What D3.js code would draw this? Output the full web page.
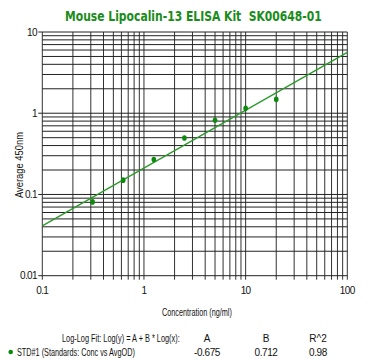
<!DOCTYPE html>
<html>
<head>
<meta charset="utf-8">
<script src="https://cdn.jsdelivr.net/npm/d3@7"></script>
<style>
  body { margin: 0; background: #fff; }
  text { font-family: "Liberation Sans", Arial, sans-serif; fill: #111; }
</style>
</head>
<body>
<script>
var width = 368
var height = 360

// standards
var conc = [0.3125, 0.625, 1.25, 2.5, 5, 10, 20]
var avgOD = [0.081, 0.150, 0.27, 0.495, 0.82, 1.15, 1.48]

// fit parameters shown under the chart
var fitA = -0.675
var fitB = 0.712
var fitR2 = 0.98

var xTicks = [0.1, 1, 10, 100]
var yTicks = [0.01, 0.1, 1, 10]

var green = "#1a8c1a"

var svg = d3.select("body")
    .append("svg")
        .attr("width", width)
        .attr("height", height)

var x = d3.scaleLog().domain([0.1, 100]).range([42.3, 347.3])
var y = d3.scaleLog().domain([0.01, 10]).range([275.7, 32])

// grid values, 1..9 per decade
var xGrid = []
xTicks.slice(0, -1).forEach(function(d) { for (var i = 1; i < 10; i++) xGrid.push(d * i) })
xGrid.push(100)
var yGrid = []
yTicks.slice(0, -1).forEach(function(d) { for (var i = 1; i < 10; i++) yGrid.push(d * i) })
yGrid.push(10)

var fmt = function(f) { return function(d) { return d3.format(f)(d).replace("\u2212", "-") } }

// squeeze a text horizontally to a given width, starting at x0
function squeeze(sel, x0, y0, w) {
    var n = sel.node().getComputedTextLength()
    sel.attr("transform", "translate(" + x0 + "," + y0 + ") scale(" + (w / n) + ",1)")
}

var title = svg.append("text")
    .style("font-family", "'DejaVu Sans Condensed', 'DejaVu Sans', sans-serif")
    .style("font-stretch", "condensed")
    .style("font-weight", "bold")
    .style("font-size", "14.5px")
    .style("white-space", "pre")
    .style("fill", green)
    .text("Mouse Lipocalin-13 ELISA Kit  SK00648-01")
squeeze(title, 65, 20.5, 257)

var grid = svg.append("g")
grid.selectAll("line.v")
    .data(xGrid)
    .enter()
    .append("line")
        .attr("x1", function(d) { return x(d) })
        .attr("x2", function(d) { return x(d) })
        .attr("y1", y(10))
        .attr("y2", y(0.01) + 4)
        .attr("stroke", "#333")
        .attr("stroke-width", 1)

grid.selectAll("line.h")
    .data(yGrid)
    .enter()
    .append("line")
        .attr("x1", x(0.1))
        .attr("x2", x(100))
        .attr("y1", function(d) { return y(d) })
        .attr("y2", function(d) { return y(d) })
        .attr("stroke", "#222")
        .attr("stroke-width", 1)

// left ticks at decades
grid.selectAll("line.lt")
    .data(yTicks)
    .enter()
    .append("line")
        .attr("x1", x(0.1) - 4)
        .attr("x2", x(0.1))
        .attr("y1", function(d) { return y(d) })
        .attr("y2", function(d) { return y(d) })
        .attr("stroke", "#222")

svg.selectAll("text.yt")
    .data(yTicks)
    .enter()
    .append("text")
        .attr("x", 37)
        .attr("y", function(d) { return y(d) + 3.5 })
        .attr("text-anchor", "end")
        .style("font-size", "10px")
        .style("letter-spacing", "-0.6px")
        .text(fmt("~g"))

svg.selectAll("text.xt")
    .data(xTicks)
    .enter()
    .append("text")
        .attr("x", function(d) { return x(d) })
        .attr("y", 293.5)
        .attr("text-anchor", "middle")
        .style("font-size", "10px")
        .style("letter-spacing", "-0.6px")
        .text(fmt("~g"))

var xLabel = svg.append("text")
    .style("font-size", "10px")
    .text("Concentration (ng/ml)")
squeeze(xLabel, 162, 315.5, 70)

svg.append("text")
    .attr("transform", "translate(22.5,165) rotate(-90)")
    .attr("text-anchor", "middle")
    .attr("textLength", 66).attr("lengthAdjust", "spacingAndGlyphs")
    .style("font-size", "10px")
    .text("Average 450nm")

// fit line from A and B
var line = d3.line()
    .x(function(d) { return x(d) })
    .y(function(d) { return y(Math.pow(10, fitA + fitB * Math.log10(d))) })

svg.append("path")
    .datum(x.domain())
    .attr("d", line)
    .attr("fill", "none")
    .attr("stroke", "#2a9a2a")
    .attr("stroke-width", 1.3)

svg.selectAll("ellipse.pt")
    .data(conc)
    .enter()
    .append("ellipse")
        .attr("cx", function(d) { return x(d) })
        .attr("cy", function(d, i) { return y(avgOD[i]) })
        .attr("rx", 2.3)
        .attr("ry", 2.8)
        .attr("fill", "#0b8a0b")

// fit table
var rowY1 = 341.5, rowY2 = 355.5
var fitLabel = svg.append("text")
    .style("font-size", "10px")
    .text("Log-Log Fit: Log(y) = A + B * Log(x):")
squeeze(fitLabel, 62, rowY1, 118)

var heads = ["A", "B", "R^2"]
var vals = [fmt(".3f")(fitA), fmt(".3f")(fitB), fmt(".2f")(fitR2)]
var colX = [207, 266, 318]

svg.selectAll("text.hd")
    .data(heads)
    .enter()
    .append("text")
        .attr("x", function(d, i) { return colX[i] })
        .attr("y", rowY1)
        .attr("text-anchor", "middle")
        .style("font-size", "10px")
        .text(function(d) { return d })

svg.selectAll("text.vl")
    .data(vals)
    .enter()
    .append("text")
        .attr("x", function(d, i) { return colX[i] })
        .attr("y", rowY2)
        .attr("text-anchor", "middle")
        .style("font-size", "10px")
        .style("letter-spacing", "-0.4px")
        .text(function(d) { return d })

svg.append("circle")
    .attr("cx", 10.7).attr("cy", 352)
    .attr("r", 2.3)
    .attr("fill", "#0b8a0b")

var stdLabel = svg.append("text")
    .style("font-size", "10px")
    .text("STD#1 (Standards: Conc vs AvgOD)")
squeeze(stdLabel, 17, rowY2, 118)
</script>
</body>
</html>
